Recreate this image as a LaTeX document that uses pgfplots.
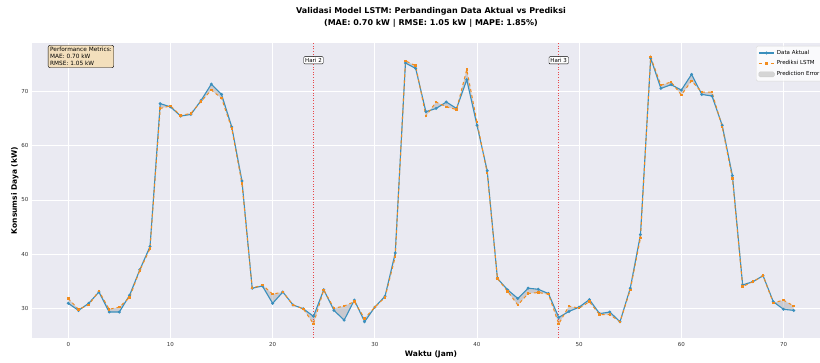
\documentclass[border=0pt]{standalone}
\usepackage{fontspec}
\setmainfont{DejaVu Sans}
\usepackage{pgfplots}
\pgfplotsset{compat=1.18}
\usepgfplotslibrary{fillbetween}
\definecolor{bgc}{HTML}{EAEAF2}
\definecolor{actc}{HTML}{3A8FBD}
\definecolor{predc}{HTML}{F28C1E}
\definecolor{wheatc}{HTML}{F5DEB3}
\definecolor{vlc}{HTML}{E8474A}

\pgfplotstableread{
h v
0 30.9
1 29.6
2 30.9
3 33.0
4 29.3
5 29.3
6 32.4
7 37.1
8 41.4
9 67.8
10 67.2
11 65.5
12 65.8
13 68.4
14 71.4
15 69.5
16 63.5
17 53.5
18 33.7
19 34.1
20 30.9
21 33.0
22 30.6
23 29.9
24 28.5
25 33.4
26 29.6
27 27.8
28 31.5
29 27.5
30 30.2
31 32.2
32 40.2
33 75.3
34 74.3
35 66.3
36 66.9
37 68.1
38 66.9
39 72.2
40 63.8
41 55.4
42 35.5
43 33.4
44 31.8
45 33.7
46 33.5
47 32.7
48 28.3
49 29.4
50 30.2
51 31.6
52 29.0
53 29.3
54 27.5
55 33.7
56 43.6
57 76.2
58 70.6
59 71.3
60 70.3
61 73.2
62 69.5
63 69.2
64 63.8
65 54.5
66 34.3
67 34.9
68 36.0
69 31.2
70 29.8
71 29.6
}\actual

\pgfplotstableread{
h v
0 31.8
1 29.8
2 30.6
3 33.2
4 29.8
5 30.2
6 32.0
7 37.0
8 41.0
9 66.9
10 67.4
11 65.6
12 66.0
13 68.2
14 70.3
15 68.8
16 63.2
17 53.0
18 33.7
19 34.3
20 32.6
21 33.0
22 30.6
23 29.9
24 27.1
25 33.4
26 30.0
27 30.4
28 31.2
29 28.1
30 30.2
31 32.0
32 39.5
33 75.7
34 74.8
35 65.5
36 68.1
37 67.2
38 66.7
39 74.1
40 64.4
41 55.0
42 35.5
43 33.1
44 30.6
45 32.7
46 32.9
47 32.6
48 27.1
49 30.4
50 30.0
51 31.2
52 28.8
53 28.8
54 27.5
55 33.4
56 43.0
57 76.4
58 71.2
59 71.8
60 69.4
61 72.0
62 69.9
63 69.9
64 63.5
65 54.0
66 34.0
67 34.9
68 36.0
69 31.0
70 31.5
71 30.4
}\predicted

\pgfplotstableread{
x y
24 24.5
24 79
}\dayA
\pgfplotstableread{
x y
48 24.5
48 79
}\dayB

\begin{document}
\begin{tikzpicture}
\begin{axis}[
  at={(0,0)}, anchor=south west,
  scale only axis, width=798pt, height=295pt,
  xmin=-3.55, xmax=74.55, ymin=24.5, ymax=79,
  axis background/.style={fill=bgc},
  axis line style={draw=none},
  major tick length=0pt,
  grid=major, grid style={white, line width=0.8pt},
  xtick={0,10,...,70}, ytick={30,40,...,70},
  tick label style={font=\fontsize{5.5}{6}\selectfont, text=black!80},
  /pgf/number format/assume math mode=true,
  xticklabel style={yshift=-1pt},
  xlabel={\textbf{Waktu (Jam)}}, ylabel={\textbf{Konsumsi Daya (kW)}},
  label style={font=\fontsize{7.5}{9}\selectfont},
  xlabel style={yshift=3pt},
  ylabel style={yshift=-4pt},
  title={Validasi Model LSTM: Perbandingan Data Aktual vs Prediksi\\(MAE: 0.70 kW | RMSE: 1.05 kW | MAPE: 1.85\%)},
  title style={align=center, font=\bfseries\fontsize{8}{12.5}\selectfont, at={(0.5,1)}, anchor=south, yshift=6pt},
  legend style={at={(0.992,0.99)}, anchor=north east, fill=white, fill opacity=0.8, text opacity=1,
    draw=black!15, rounded corners=1.5pt, font=\fontsize{5.5}{6.5}\selectfont, row sep=1pt, inner sep=2pt},
  legend cell align=left,
  legend image code/.code={\draw[#1] (0cm,0cm) -- (0.55cm,0cm); \draw[#1, solid] plot coordinates {(0.275cm,0cm)};},
]
\addplot[draw=none, forget plot, name path=act] table[x=h,y=v]{\actual};
\addplot[draw=none, forget plot, name path=pred] table[x=h,y=v]{\predicted};
\addplot[fill=gray, fill opacity=0.3, draw=none, forget plot] fill between[of=act and pred];
\addplot[draw=vlc, dash pattern=on 1pt off 1.6pt, line width=0.75pt, forget plot] table[x=x,y=y]{\dayA};
\addplot[draw=vlc, dash pattern=on 1pt off 1.6pt, line width=0.75pt, forget plot] table[x=x,y=y]{\dayB};
\addplot[actc, line width=1.1pt, mark=*, mark size=0.85pt] table[x=h,y=v]{\actual};
\addlegendentry{Data Aktual}
\addplot[predc, line width=1.0pt, dashed, mark=square*, mark size=0.75pt, mark options={solid}] table[x=h,y=v]{\predicted};
\addlegendentry{Prediksi LSTM}
\addlegendimage{legend image code/.code={\fill[black!20] (0cm,-0.09cm) rectangle (0.55cm,0.09cm);}}
\addlegendentry{Prediction Error}
\node[draw=black, fill=white, rounded corners=1pt, inner sep=1.5pt, font=\fontsize{5.5}{6}\selectfont] at (axis cs:24,75.8) {Hari 2};
\node[draw=black, fill=white, rounded corners=1pt, inner sep=1.5pt, font=\fontsize{5.5}{6}\selectfont] at (axis cs:48,75.8) {Hari 3};
\node[anchor=north west, draw=black, fill=wheatc, fill opacity=0.85, text opacity=1, rounded corners=2pt, align=left,
  font=\fontsize{5.8}{7}\selectfont, inner sep=2pt] at (rel axis cs:0.02,0.993) {Performance Metrics:\\MAE: 0.70 kW\\RMSE: 1.05 kW};
\end{axis}
\pgfresetboundingbox
\path[use as bounding box] (-32pt,-25pt) rectangle (788pt,338pt);
\end{tikzpicture}
\end{document}
